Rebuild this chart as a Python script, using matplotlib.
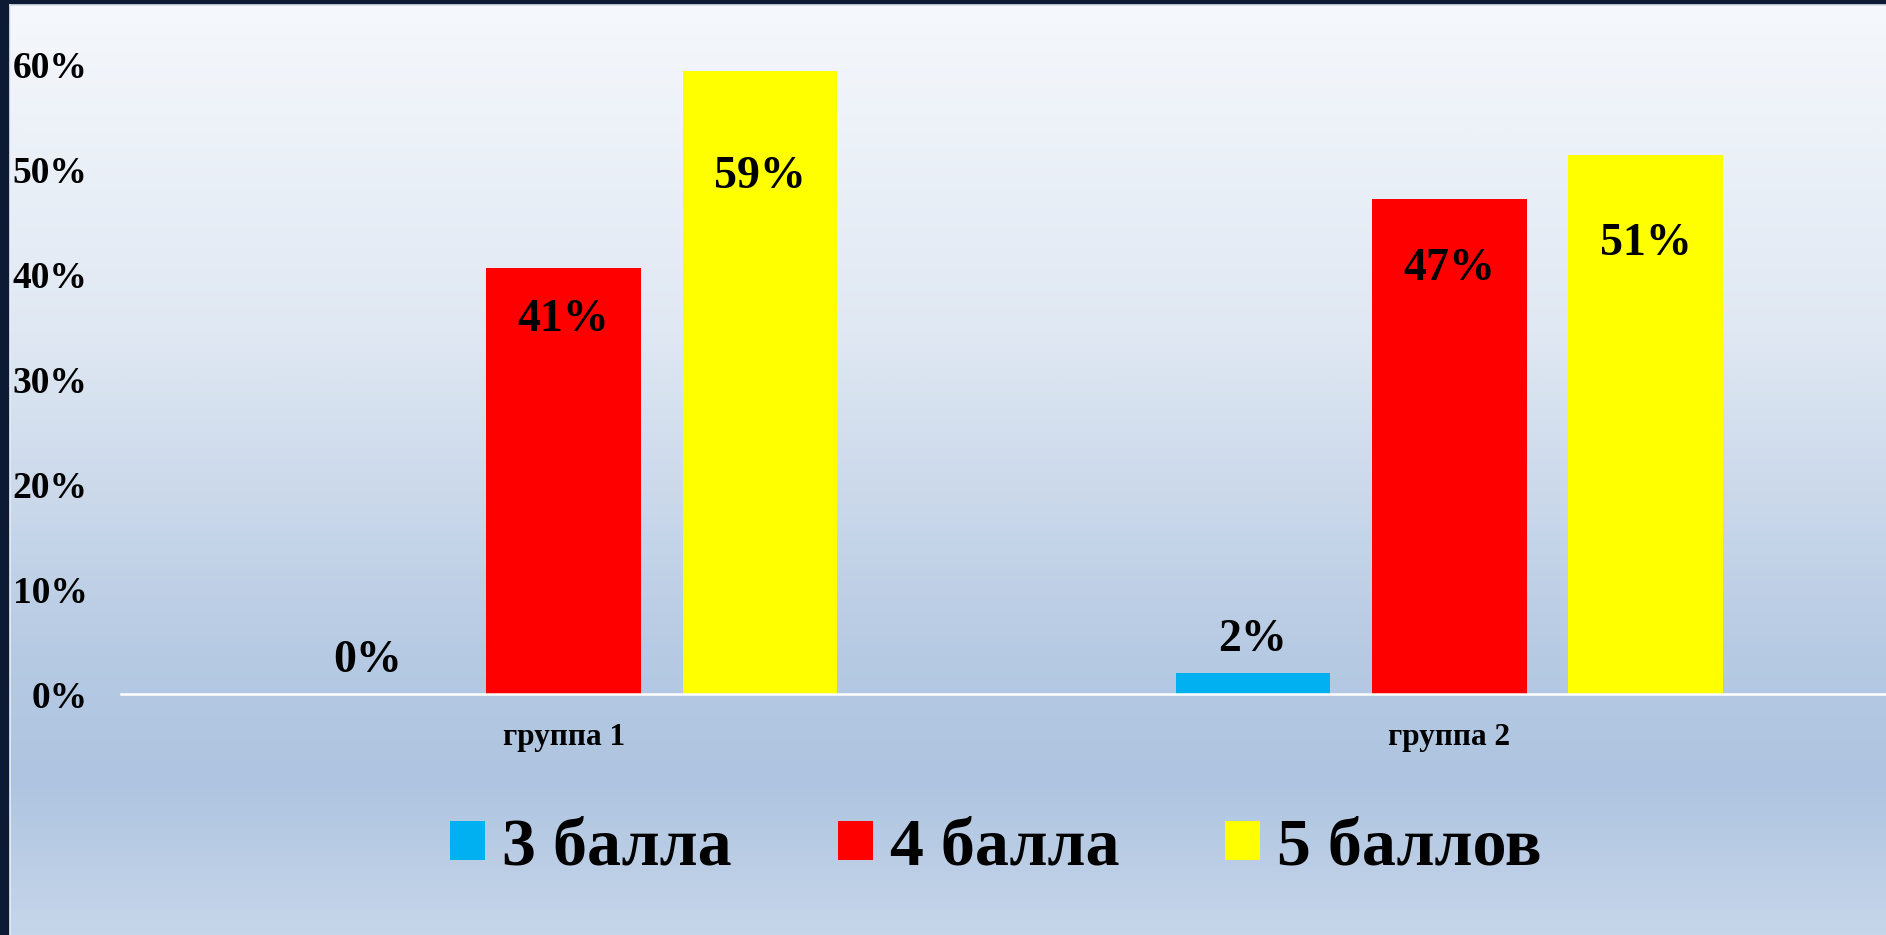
import numpy as np
import matplotlib
matplotlib.use("Agg")
import matplotlib.pyplot as plt
from matplotlib.colors import LinearSegmentedColormap

# ---- data ----
categories = ["группа 1", "группа 2"]
series_names = ["3 балла", "4 балла", "5 баллов"]
values_3 = [0.0, 2.0]
values_4 = [40.6, 47.2]
values_5 = [59.4, 51.4]
y_ticks = [0, 10, 20, 30, 40, 50, 60]

series_values = [values_3, values_4, values_5]
colors = ["#00B0F0", "#FF0000", "#FFFF00"]
# label offsets (points) of label centre relative to bar top, per series/category
label_offsets = [[23.5, 23.5], [-37, -50], [-76, -64]]

plt.rcParams["font.family"] = ["Liberation Serif", "DejaVu Serif"]
plt.rcParams["font.weight"] = "bold"

W, H = 1886, 935
fig = plt.figure(figsize=(W / 100, H / 100), dpi=100)
fig.patch.set_facecolor("#0C1A33")

# background panel with vertical gradient
x0 = 10 / W
y1 = 1 - 5 / H
bg = fig.add_axes([x0, 0, 1 - x0, y1])
bg.set_axis_off()
stops = [(0.0, "#F5F8FC"), (0.35, "#E0E8F3"), (0.70, "#B6CAE3"),
         (0.835, "#AEC4E0"), (1.0, "#C6D6EA")]
cmap = LinearSegmentedColormap.from_list("bg", stops)
grad = np.linspace(0, 1, 512).reshape(-1, 1)
bg.imshow(grad, aspect="auto", cmap=cmap, extent=[0, 1, 0, 1], origin="upper")
bg.set_xlim(0, 1)
bg.set_ylim(0, 1)
# thin light edge lines
fig.add_artist(plt.Line2D([x0, x0], [0, y1], transform=fig.transFigure,
                          color="#E8EEF6", lw=1.2))
fig.add_artist(plt.Line2D([x0, 1], [y1, y1], transform=fig.transFigure,
                          color="#D8DEE6", lw=1.2))

# main axes
ax_left = 121 / W
ax_width = 1771 / W
ax_bottom = (H - 694) / H
ax_height = 629 / H
ax = fig.add_axes([ax_left, ax_bottom, ax_width, ax_height])
ax.patch.set_alpha(0)

x = np.arange(len(categories))
bw = 0.1745
step = 0.2217
bars = []
for i, (vals, col, name) in enumerate(zip(series_values, colors, series_names)):
    b = ax.bar(x + (i - 1) * step, vals, width=bw, color=col, label=name,
               zorder=2, linewidth=0)
    bars.append(b)
    for j, rect in enumerate(b):
        v = vals[j]
        ax.annotate(f"{round(v):d}%",
                    xy=(rect.get_x() + rect.get_width() / 2, rect.get_height()),
                    xytext=(0, label_offsets[i][j]), textcoords="offset points",
                    ha="center", va="center", fontsize=33, fontweight="bold",
                    color="black", zorder=5)

ax.set_xlim(-0.5, 1.5)
ax.set_ylim(0, 60)
ax.set_yticks(y_ticks)
ax.set_yticklabels([f"{t}%" for t in y_ticks], fontsize=27, fontweight="bold")
ax.set_xticks(x)
ax.set_xticklabels(categories, fontsize=22.5, fontweight="bold")
ax.tick_params(axis="both", length=0)
ax.tick_params(axis="y", pad=24)
ax.tick_params(axis="x", pad=21)
for s in ["left", "right", "top"]:
    ax.spines[s].set_visible(False)
ax.spines["bottom"].set_color("white")
ax.spines["bottom"].set_linewidth(1.8)
ax.spines["bottom"].set_zorder(3)

leg = fig.legend(handles=bars, labels=series_names, loc="center",
                 bbox_to_anchor=(996 / W, 1 - 848 / H), ncol=3, frameon=False,
                 prop={"family": "Liberation Serif", "weight": "bold", "size": 49},
                 handlelength=0.52, handleheight=0.52, handletextpad=0.25,
                 columnspacing=1.55, borderpad=0)

fig.savefig("out.png", dpi=100, facecolor=fig.get_facecolor())
